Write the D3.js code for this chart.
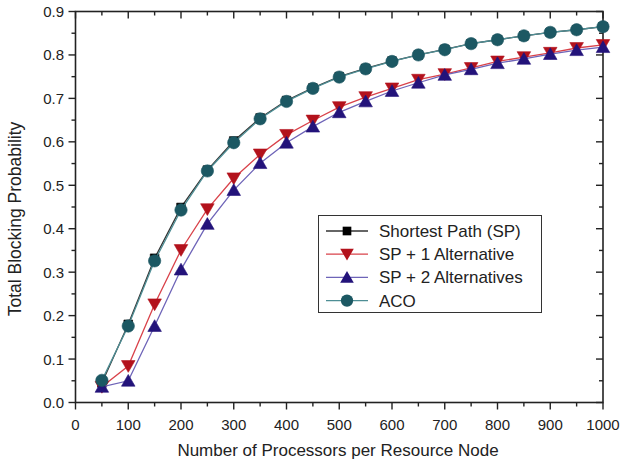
<!DOCTYPE html>
<html>
<head>
<meta charset="utf-8">
<script src="https://cdn.jsdelivr.net/npm/d3@7"></script>
<style>
  body { margin: 0; background: #fff; }
  text { font-family: "Liberation Sans", Arial, sans-serif; fill: #222; }
</style>
</head>
<body>
<div id="chart"></div>
<script>
var processors = [50, 100, 150, 200, 250, 300, 350, 400, 450, 500, 550, 600, 650, 700, 750, 800, 850, 900, 950, 1000];
var sp   = [0.045, 0.180, 0.332, 0.449, 0.535, 0.602, 0.655, 0.695, 0.724, 0.750, 0.769, 0.786, 0.800, 0.813, 0.826, 0.835, 0.844, 0.852, 0.858, 0.865];
var sp1  = [0.036, 0.084, 0.226, 0.351, 0.445, 0.516, 0.571, 0.616, 0.649, 0.680, 0.703, 0.723, 0.743, 0.756, 0.770, 0.785, 0.795, 0.805, 0.816, 0.823];
var sp2  = [0.036, 0.050, 0.176, 0.306, 0.411, 0.489, 0.551, 0.598, 0.635, 0.668, 0.693, 0.717, 0.736, 0.754, 0.767, 0.781, 0.791, 0.802, 0.811, 0.818];
var aco  = [0.051, 0.176, 0.326, 0.443, 0.533, 0.598, 0.653, 0.693, 0.723, 0.749, 0.768, 0.785, 0.800, 0.812, 0.826, 0.835, 0.844, 0.852, 0.858, 0.865];
var xTicks = [0, 100, 200, 300, 400, 500, 600, 700, 800, 900, 1000];
var yTicks = [0, 0.1, 0.2, 0.3, 0.4, 0.5, 0.6, 0.7, 0.8, 0.9];

var series = [
  { name: "Shortest Path (SP)", values: sp, line: "#333", fill: "#000", shape: d3.symbolSquare, size: 75, rot: 0 },
  { name: "SP + 1 Alternative", values: sp1, line: "#d9424a", fill: "#b3121c", shape: d3.symbolTriangle, size: 80, rot: 180 },
  { name: "SP + 2 Alternatives", values: sp2, line: "#6e64b8", fill: "#23137a", shape: d3.symbolTriangle, size: 80, rot: 0 },
  { name: "ACO", values: aco, line: "#4e8e95", fill: "#1c5863", shape: d3.symbolCircle, size: 120, rot: 0 }
];

var width = 621, height = 467;
var svg = d3.select("#chart").append("svg")
  .attr("width", width)
  .attr("height", height);

var x = d3.scaleLinear().domain([0, 1000]).range([75.5, 603]);
var y = d3.scaleLinear().domain([0, 0.9]).range([402.5, 11.5]);

var minorX = d3.range(0, 1001, 50);
var minorY = d3.range(0, 0.901, 0.05);

// frame
svg.append("rect")
  .attr("x", x(0)).attr("y", y(0.9))
  .attr("width", x(1000) - x(0)).attr("height", y(0) - y(0.9))
  .attr("fill", "none").attr("stroke", "#222").attr("stroke-width", 1.6);

// ticks: bottom/left outward, top/right inward
function tickLen(v, step) { return Math.abs(v / step - Math.round(v / step)) < 1e-6 ? 7 : 4; }

svg.selectAll(".tb").data(minorX).enter().append("line")
  .attr("x1", d => x(d)).attr("x2", d => x(d))
  .attr("y1", y(0)).attr("y2", d => y(0) + tickLen(d, 100))
  .attr("stroke", "#222").attr("stroke-width", 1.4);
svg.selectAll(".tt").data(minorX).enter().append("line")
  .attr("x1", d => x(d)).attr("x2", d => x(d))
  .attr("y1", y(0.9)).attr("y2", d => y(0.9) + tickLen(d, 100))
  .attr("stroke", "#222").attr("stroke-width", 1.4);
svg.selectAll(".tl").data(minorY).enter().append("line")
  .attr("y1", d => y(d)).attr("y2", d => y(d))
  .attr("x1", x(0)).attr("x2", d => x(0) - tickLen(d, 0.1))
  .attr("stroke", "#222").attr("stroke-width", 1.4);
svg.selectAll(".tr").data(minorY).enter().append("line")
  .attr("y1", d => y(d)).attr("y2", d => y(d))
  .attr("x1", x(1000)).attr("x2", d => x(1000) - tickLen(d, 0.1))
  .attr("stroke", "#222").attr("stroke-width", 1.4);

// tick labels
svg.selectAll(".xl").data(xTicks).enter().append("text")
  .attr("x", d => x(d)).attr("y", 430)
  .attr("text-anchor", "middle").attr("font-size", 15)
  .text(d => d);
svg.selectAll(".yl").data(yTicks).enter().append("text")
  .attr("x", 64).attr("y", d => y(d) + 5.5)
  .attr("text-anchor", "end").attr("font-size", 15)
  .text(d => d.toFixed(1));

// axis titles
svg.append("text")
  .attr("x", 338).attr("y", 456)
  .attr("text-anchor", "middle").attr("font-size", 17)
  .text("Number of Processors per Resource Node");
svg.append("text")
  .attr("transform", "translate(21,219) rotate(-90)")
  .attr("text-anchor", "middle").attr("font-size", 17.5)
  .text("Total Blocking Probability");

// lines + markers
var line = d3.line()
  .x((d, i) => x(processors[i]))
  .y(d => y(d));

var g = svg.selectAll(".series").data(series).enter().append("g");
g.append("path")
  .attr("d", d => line(d.values))
  .attr("fill", "none")
  .attr("stroke", d => d.line)
  .attr("stroke-width", 1.3);

g.each(function(s) {
  var sym = d3.symbol().type(s.shape).size(s.size);
  d3.select(this).selectAll("path.m").data(s.values).enter().append("path")
    .attr("class", "m")
    .attr("d", sym)
    .attr("transform", (d, i) => "translate(" + x(processors[i]) + "," + (y(d) + (s.shape === d3.symbolTriangle ? (s.rot ? -1.5 : 1.5) : 0)) + ") rotate(" + s.rot + ")")
    .attr("fill", s.fill)
    .attr("stroke", s.fill)
    .attr("stroke-width", 0.6);
});

// legend
var lg = svg.append("g");
lg.append("rect")
  .attr("x", 318.5).attr("y", 215.5)
  .attr("width", 223).attr("height", 97)
  .attr("fill", "#fff").attr("stroke", "#333").attr("stroke-width", 1);

var rows = lg.selectAll(".row").data(series).enter().append("g")
  .attr("transform", (d, i) => "translate(0," + (231 + i * 23.2) + ")");
rows.append("line")
  .attr("x1", 326).attr("x2", 368)
  .attr("stroke", d => d.line).attr("stroke-width", 1.3);
rows.append("path")
  .attr("d", d => d3.symbol().type(d.shape).size(d.size)())
  .attr("transform", d => "translate(347," + (d.shape === d3.symbolTriangle ? (d.rot ? -1.5 : 1.5) : 0) + ") rotate(" + d.rot + ")")
  .attr("fill", d => d.fill);
rows.append("text")
  .attr("x", 379).attr("y", 6)
  .attr("font-size", 17)
  .text(d => d.name);
</script>
</body>
</html>
